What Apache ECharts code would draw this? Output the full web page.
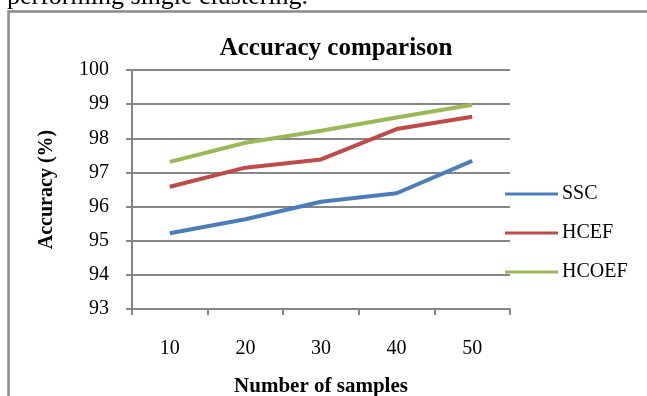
<!DOCTYPE html>
<html><head><meta charset="utf-8">
<script src="https://cdn.jsdelivr.net/npm/echarts@6/dist/echarts.min.js"></script>
<style>html,body{margin:0;padding:0;background:#fff}#c{width:647px;height:396px}</style>
</head><body><div id="c"></div>
<script>
const categories = ['10', '20', '30', '40', '50'];
const ssc = [95.22, 95.63, 96.14, 96.39, 97.34];
const hcef = [96.58, 97.14, 97.38, 98.27, 98.63];
const hcoef = [97.31, 97.87, 98.22, 98.61, 98.98];
const seriesNames = ['SSC', 'HCEF', 'HCOEF'];
const colors = ['#4A7EBB', '#BE4B48', '#98B954'];

const font = 'Liberation Serif, Times New Roman, serif';
const chart = echarts.init(document.getElementById('c'));
const mk = (name, data, color) => ({
  name, type: 'line', data, symbol: 'none', smooth: false,
  lineStyle: { width: 4, color }, itemStyle: { color }
});
chart.setOption({
  animation: false,
  textStyle: { fontFamily: font },
  graphic: [
    { type: 'rect', shape: { x: 8.5, y: 11.5, width: 700, height: 420 },
      style: { fill: 'none', stroke: '#8a8a8a', lineWidth: 2.5 } },
    { type: 'text', x: 7, y: -3,
      style: { text: 'performing single clustering.', font: '26px ' + font, fill: '#000', verticalAlign: 'middle', align: 'left' } }
  ],
  title: {
    text: 'Accuracy comparison', left: 331, top: 31, textAlign: 'center',
    textStyle: { fontFamily: font, fontSize: 25, fontWeight: 'bold', color: '#000' }
  },
  legend: {
    orient: 'vertical', left: 500, top: 179, itemGap: 19,
    itemWidth: 53, itemHeight: 20, icon: 'path://M0,8.5 L53,8.5 L53,11.5 L0,11.5 Z',
    data: seriesNames,
    textStyle: { fontFamily: font, fontSize: 20, color: '#000', padding: [0, 0, 0, -1] }
  },
  grid: { left: 132, right: 137, top: 70, bottom: 87, containLabel: false, outerBoundsMode: 'none' },
  xAxis: {
    type: 'category', data: categories, boundaryGap: true,
    name: 'Number of samples', nameLocation: 'middle', nameGap: 67,
    nameTextStyle: { fontFamily: font, fontSize: 21, fontWeight: 'bold', color: '#000' },
    axisLine: { lineStyle: { color: '#868686', width: 2 } },
    axisTick: { show: true, alignWithLabel: false, length: 6, inside: false, lineStyle: { color: '#868686', width: 2 } },
    axisLabel: { fontFamily: font, fontSize: 20, color: '#000', margin: 30 }
  },
  yAxis: {
    type: 'value', min: 93, max: 100, interval: 1,
    name: 'Accuracy (%)', nameLocation: 'middle', nameGap: 75, nameRotate: 90,
    nameTextStyle: { fontFamily: font, fontSize: 20, fontWeight: 'bold', color: '#000' },
    axisLine: { show: true, lineStyle: { color: '#868686', width: 2 } },
    axisTick: { show: true, length: 6, lineStyle: { color: '#868686', width: 2 } },
    axisLabel: { fontFamily: font, fontSize: 20, color: '#000', margin: 23 },
    splitLine: { lineStyle: { color: '#868686', width: 2 } }
  },
  series: [
    mk(seriesNames[0], ssc, colors[0]),
    mk(seriesNames[1], hcef, colors[1]),
    mk(seriesNames[2], hcoef, colors[2])
  ]
});
</script></body></html>
